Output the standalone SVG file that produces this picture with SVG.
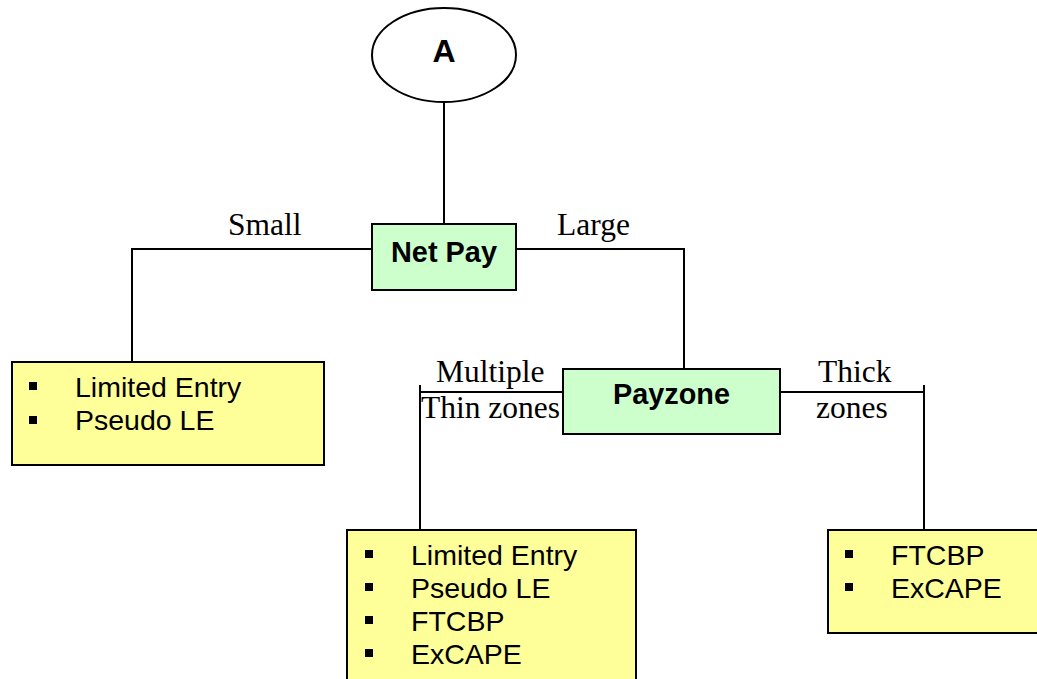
<svg xmlns="http://www.w3.org/2000/svg" width="1037" height="679" viewBox="0 0 1037 679">
<style>
.ln{fill:none;stroke:#000;stroke-width:2}
.green{fill:#CCFFCC;stroke:#000;stroke-width:2}
.yellow{fill:#FFFF99;stroke:#000;stroke-width:2}
.bold{font-family:"Liberation Sans",Arial,sans-serif;font-weight:bold;font-size:30px;fill:#000;text-anchor:middle}
.item{font-family:"Liberation Sans",Arial,sans-serif;font-size:28.5px;fill:#000}
.lbl{font-family:"Liberation Serif","Times New Roman",serif;font-size:31.5px;fill:#000}
.bul{fill:#000}
</style>
<rect width="1037" height="679" fill="#fff"/>
<g id="connectors">
<line class="ln" x1="444" y1="102" x2="444" y2="224"/>
<polyline class="ln" points="372,249 132,249 132,362"/>
<polyline class="ln" points="516,249 684,249 684,369"/>
<line class="ln" x1="563" y1="392" x2="420" y2="392"/>
<line class="ln" x1="420" y1="385" x2="420" y2="530"/>
<line class="ln" x1="780" y1="392" x2="924" y2="392"/>
<line class="ln" x1="924" y1="385" x2="924" y2="530"/>
<text class="lbl" x="228" y="235">Small</text>
<text class="lbl" x="557" y="235">Large</text>
<text class="lbl" x="436" y="382">Multiple</text>
<text class="lbl" x="421" y="418">Thin zones</text>
<text class="lbl" x="818" y="382">Thick</text>
<text class="lbl" x="816" y="418">zones</text>
</g>
<g id="nodeA">
<ellipse cx="444" cy="55" rx="72" ry="47" fill="#fff" stroke="#000" stroke-width="2"/>
<text class="bold" x="444" y="62" style="font-size:32px">A</text>
</g>
<g id="netpay">
<rect class="green" x="372" y="224" width="144" height="66"/>
<text class="bold" x="444" y="262" textLength="106" lengthAdjust="spacingAndGlyphs">Net Pay</text>
</g>
<g id="payzone">
<rect class="green" x="563" y="369" width="217" height="65"/>
<text class="bold" x="671.5" y="404" textLength="117" lengthAdjust="spacingAndGlyphs">Payzone</text>
</g>
<g id="small-box">
<rect class="yellow" x="12" y="362" width="312" height="103"/>
<rect class="bul" x="29" y="382" width="8" height="8"/>
<text class="item" x="75" y="397">Limited Entry</text>
<rect class="bul" x="29" y="416" width="8" height="8"/>
<text class="item" x="75" y="430">Pseudo LE</text>
</g>
<g id="thin-box">
<rect class="yellow" x="347" y="530" width="289" height="170"/>
<rect class="bul" x="365" y="550" width="8" height="8"/>
<text class="item" x="411" y="565">Limited Entry</text>
<rect class="bul" x="365" y="583" width="8" height="8"/>
<text class="item" x="411" y="598">Pseudo LE</text>
<rect class="bul" x="365" y="616" width="8" height="8"/>
<text class="item" x="411" y="631">FTCBP</text>
<rect class="bul" x="365" y="649" width="8" height="8"/>
<text class="item" x="411" y="664">ExCAPE</text>
</g>
<g id="thick-box">
<rect class="yellow" x="828" y="530" width="220" height="103"/>
<rect class="bul" x="845" y="550" width="8" height="8"/>
<text class="item" x="891" y="565">FTCBP</text>
<rect class="bul" x="845" y="583" width="8" height="8"/>
<text class="item" x="891" y="598">ExCAPE</text>
</g>
</svg>
